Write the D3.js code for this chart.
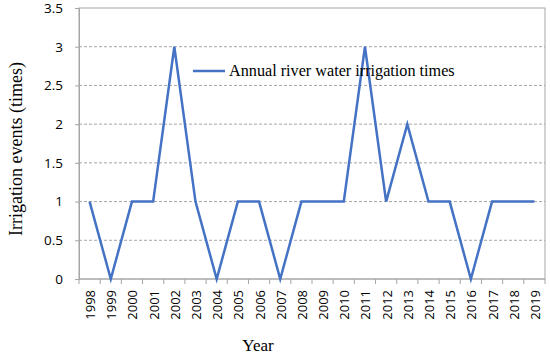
<!DOCTYPE html>
<html>
<head>
<meta charset="utf-8">
<script src="https://cdn.jsdelivr.net/npm/d3@7"></script>
<style>
  body { margin: 0; background: #fff; }
  svg { display: block; }
</style>
</head>
<body>
<div id="chart"></div>
<script>
// Chart data
const years = ["1998","1999","2000","2001","2002","2003","2004","2005","2006","2007","2008",
               "2009","2010","2011","2012","2013","2014","2015","2016","2017","2018","2019"];
const irrigationTimes = [1,0,1,1,3,1,0,1,1,0,1,1,1,3,1,2,1,1,0,1,1,1];
const yTicks = [0,0.5,1,1.5,2,2.5,3,3.5];
const seriesName = "Annual river water irrigation times";

const width = 550, height = 359;
const margin = { top: 8, right: 5, bottom: 80, left: 79 };

const svg = d3.select("#chart").append("svg")
    .attr("width", width)
    .attr("height", height);

// Scales
const x = d3.scaleBand()
    .domain(years)
    .range([margin.left, width - margin.right]);

const y = d3.scaleLinear()
    .domain([0, 3.5])
    .range([height - margin.bottom, margin.top]);

// Gridlines (dashed)
svg.append("g")
    .selectAll("line")
    .data(yTicks.filter(d => d > 0 && d < 3.5))
    .enter()
    .append("line")
    .attr("x1", margin.left)
    .attr("x2", width - margin.right)
    .attr("y1", d => y(d))
    .attr("y2", d => y(d))
    .attr("stroke", "#a6a6a6")
    .attr("stroke-width", 1)
    .attr("stroke-dasharray", "3,2");

// Plot border
svg.append("rect")
    .attr("x", margin.left)
    .attr("y", margin.top)
    .attr("width", width - margin.right - margin.left)
    .attr("height", height - margin.bottom - margin.top)
    .attr("fill", "none")
    .attr("stroke", "#a6a6a6")
    .attr("stroke-width", 1);

// Y axis
const yAxis = svg.append("g")
    .attr("transform", `translate(${margin.left},0)`)
    .call(d3.axisLeft(y).tickValues(yTicks).tickSize(4).tickPadding(12).tickFormat(d3.format("")));
yAxis.select(".domain").attr("stroke", "#a6a6a6");
yAxis.selectAll(".tick line").attr("stroke", "#a6a6a6");
yAxis.selectAll("text")
    .attr("fill", "#000")
    .style("font-family", "'Open Sans', sans-serif")
    .style("font-size", "13.5px");

// X axis with ticks at band boundaries
const xAxisG = svg.append("g")
    .attr("transform", `translate(0,${y(0)})`);
xAxisG.append("line")
    .attr("x1", margin.left).attr("x2", width - margin.right)
    .attr("stroke", "#a6a6a6");
const bounds = years.map(d => x(d)).concat([x(years[years.length - 1]) + x.bandwidth()]);
xAxisG.selectAll(".xtick")
    .data(bounds)
    .enter()
    .append("line")
    .attr("class", "xtick")
    .attr("x1", d => d).attr("x2", d => d)
    .attr("y1", 0).attr("y2", 5)
    .attr("stroke", "#a6a6a6");
xAxisG.selectAll(".xlabel")
    .data(years)
    .enter()
    .append("text")
    .attr("class", "xlabel")
    .attr("transform", d => `translate(${x(d) + x.bandwidth() / 2 + 5.5},11)rotate(-90)`)
    .attr("text-anchor", "end")
    .style("font-family", "'Open Sans', sans-serif")
    .style("font-size", "13px")
    .text(d => d);

// Line
const line = d3.line()
    .x((d, i) => x(years[i]) + x.bandwidth() / 2)
    .y(d => y(d));

svg.append("path")
    .datum(irrigationTimes)
    .attr("d", line)
    .attr("fill", "none")
    .attr("stroke", "#4472c4")
    .attr("stroke-width", 2.5)
    .attr("stroke-linejoin", "miter");

// Legend
const legend = svg.append("g").attr("transform", "translate(193,71)");
legend.append("line")
    .attr("x1", 0).attr("x2", 32)
    .attr("stroke", "#4472c4")
    .attr("stroke-width", 2.5);
legend.append("text")
    .attr("x", 36)
    .attr("y", 5)
    .style("font-family", "'Liberation Serif', serif")
    .style("font-size", "16.2px")
    .text(seriesName);

// Axis titles
svg.append("text")
    .attr("x", 258)
    .attr("y", 351)
    .attr("text-anchor", "middle")
    .style("font-family", "'Liberation Serif', serif")
    .style("font-size", "17px")
    .text("Year");

svg.append("text")
    .attr("transform", "translate(22,149)rotate(-90)")
    .attr("text-anchor", "middle")
    .style("font-family", "'Liberation Serif', serif")
    .style("font-size", "18px")
    .text("Irrigation events (times)");
</script>
</body>
</html>
